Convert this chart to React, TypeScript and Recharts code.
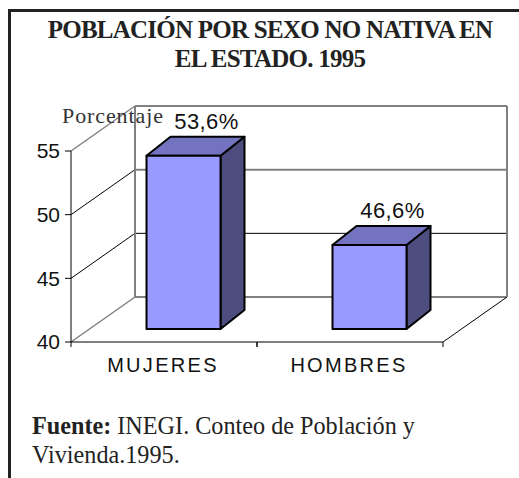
import { BarChart, Bar, XAxis, YAxis, CartesianGrid } from "recharts";

const categories = ["MUJERES", "HOMBRES"];
const values = [53.6, 46.6];
const yTicks = [40, 45, 50, 55];
const titleLines = ["POBLACIÓN POR SEXO NO NATIVA EN", "EL ESTADO. 1995"];

const data = categories.map((name, i) => ({ name, value: values[i] }));

const WIDTH = 519;
const HEIGHT = 478;
const PLOT_LEFT = 71;
const PLOT_RIGHT = 443;
const PLOT_TOP = 151;
const PLOT_BOTTOM = 342;
const BAND = (PLOT_RIGHT - PLOT_LEFT) / categories.length;

// depth of the fake 3D box, and of the bars inside it
const WALL_DX = 64;
const WALL_DY = 45;
const BAR_SHIFT_X = 19.5;
const BAR_SHIFT_Y = 13;
const BAR_DX = 24;
const BAR_DY = 19;

const GREY = "#808080";
const SANS = "'Liberation Sans', Arial, sans-serif";
const SERIF = "'Liberation Serif', 'Times New Roman', serif";

function formatPct(v: number) {
  return v.toFixed(1).replace(".", ",") + "%";
}

function WallLine(props: any) {
  const { x1, x2, y1, y2 } = props;
  const isTop = Math.abs(y1 - PLOT_TOP) < 1;
  const isBottom = Math.abs(y1 - PLOT_BOTTOM) < 1;
  const edgeGrey = isTop || isBottom;
  const backY = y1 - WALL_DY;
  const backGrey = isTop || isBottom || Math.abs(y1 - (PLOT_TOP + (PLOT_BOTTOM - PLOT_TOP) / 3)) < 1;
  return (
    <g>
      <line x1={x1} y1={y1} x2={x1 + WALL_DX} y2={backY} stroke={edgeGrey ? GREY : "#000"} strokeWidth={edgeGrey ? 1.5 : 1} />
      <line x1={x1 + WALL_DX} y1={backY} x2={x2 + WALL_DX} y2={y2 - WALL_DY} stroke={backGrey ? GREY : "#000"} strokeWidth={backGrey ? 2 : 1} />
      {isBottom && <line x1={x2} y1={y2} x2={x2 + WALL_DX} y2={y2 - WALL_DY} stroke="#000" strokeWidth={1} />}
      {isTop && (
        <>
          <line x1={x1 + WALL_DX} y1={backY} x2={x1 + WALL_DX} y2={PLOT_BOTTOM - WALL_DY} stroke={GREY} strokeWidth={2} />
          <line x1={x2 + WALL_DX} y1={backY} x2={x2 + WALL_DX} y2={PLOT_BOTTOM - WALL_DY} stroke={GREY} strokeWidth={2} />
        </>
      )}
    </g>
  );
}

function Bar3D(props: any) {
  const { x, y, width, height, value } = props;
  const left = x + BAR_SHIFT_X;
  const right = left + width;
  const top = y - BAR_SHIFT_Y;
  const bottom = top + height;
  return (
    <g stroke="#000" strokeWidth={2} strokeLinejoin="round">
      <polygon
        points={`${right},${top} ${right + BAR_DX},${top - BAR_DY} ${right + BAR_DX},${bottom - BAR_DY} ${right},${bottom}`}
        fill="#4D4D80"
      />
      <polygon
        points={`${left},${top} ${left + BAR_DX},${top - BAR_DY} ${right + BAR_DX},${top - BAR_DY} ${right},${top}`}
        fill="#7373BF"
      />
      <rect x={left} y={top} width={width} height={height} fill="#9999FF" />
      <text
        x={left + width / 2 + BAR_DX - 1}
        y={top - BAR_DY - 8}
        textAnchor="middle"
        stroke="none"
        fill="#111"
        fontFamily={SANS}
        fontSize={22}
        letterSpacing={0.4}
      >
        {formatPct(value)}
      </text>
    </g>
  );
}

function XTick(props: any) {
  const { x, y, payload } = props;
  return (
    <g>
      <line x1={x - BAND / 2} y1={y} x2={x - BAND / 2} y2={y + 5} stroke="#000" />
      <line x1={x + BAND / 2} y1={y} x2={x + BAND / 2} y2={y + 5} stroke="#000" />
      <text x={x - 1} y={y + 30} textAnchor="middle" fill="#111" fontFamily={SANS} fontSize={20} letterSpacing={2.3}>
        {payload.value}
      </text>
    </g>
  );
}

export default function App() {
  return (
    <div style={{ position: "absolute", left: 0, top: 0, width: WIDTH, height: HEIGHT, background: "#fff", overflow: "hidden" }}>
      <BarChart
        width={WIDTH}
        height={HEIGHT}
        data={data}
        margin={{ top: PLOT_TOP, right: WIDTH - PLOT_RIGHT, bottom: 0, left: 0 }}
        barSize={74}
      >
        <CartesianGrid horizontal={WallLine} vertical={false} />
        <XAxis
          dataKey="name"
          height={HEIGHT - PLOT_BOTTOM}
          stroke="#000"
          tickLine={false}
          tickSize={0}
          tickMargin={0}
          tick={XTick}
          interval={0}
        />
        <YAxis
          width={PLOT_LEFT}
          domain={[40, 55]}
          ticks={yTicks}
          interval={0}
          stroke="#000"
          tickSize={6}
          tickMargin={5}
          tick={{ fill: "#111", fontFamily: SANS, fontSize: 21 }}
        />
        <Bar dataKey="value" shape={Bar3D} isAnimationActive={false} />
      </BarChart>

      <div style={{ position: "absolute", left: 8, top: 9, width: WIDTH, height: HEIGHT, borderLeft: "3px solid #222", borderTop: "3px solid #222" }} />

      <div style={{ position: "absolute", left: 0, top: 16, width: 540, textAlign: "center", fontFamily: SERIF, fontWeight: "bold", fontSize: 25, letterSpacing: -0.75, lineHeight: "28.5px", color: "#222" }}>
        {titleLines.map((line) => (
          <div key={line}>{line}</div>
        ))}
      </div>

      <div style={{ position: "absolute", left: 62, top: 104, fontFamily: SERIF, fontSize: 22, letterSpacing: 0.9, lineHeight: "24px", color: "#333" }}>
        Porcentaje
      </div>

      <div style={{ position: "absolute", left: 32, top: 411, fontFamily: SERIF, fontSize: 24.2, lineHeight: "29px", color: "#222", whiteSpace: "nowrap" }}>
        <b>Fuente:</b> INEGI. Conteo de Población y
        <br />
        Vivienda.1995.
      </div>
    </div>
  );
}
